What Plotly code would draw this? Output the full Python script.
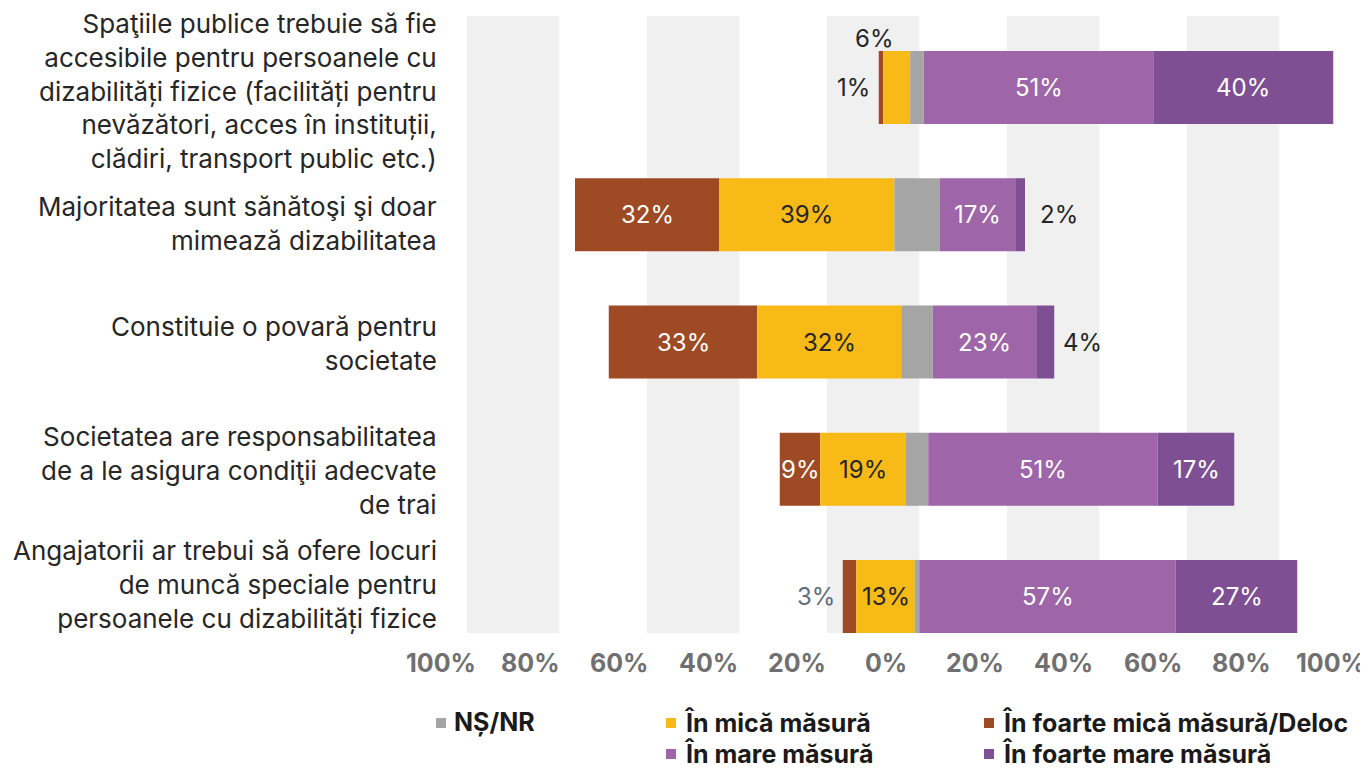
import plotly.graph_objects as go

categories = [
    "Spaţiile publice trebuie să fie<br>accesibile pentru persoanele cu<br>dizabilități fizice (facilități pentru<br>nevăzători, acces în instituții,<br>clădiri, transport public etc.)",
    "Majoritatea sunt sănătoşi şi doar<br>mimează dizabilitatea",
    "Constituie o povară pentru<br>societate",
    "Societatea are responsabilitatea<br>de a le asigura condiţii adecvate<br>de trai",
    "Angajatorii ar trebui să ofere locuri<br>de muncă speciale pentru<br>persoanele cu dizabilități fizice",
]
foarte_mica = [1, 32, 33, 9, 3]
mica = [6, 39, 32, 19, 13]
ns_nr = [3, 10, 7, 5, 1]
mare = [51, 17, 23, 51, 57]
foarte_mare = [40, 2, 4, 17, 27]

tick_values = [-100, -80, -60, -40, -20, 0, 20, 40, 60, 80, 100]
tick_labels = ["100%", "80%", "60%", "40%", "20%", "0%", "20%", "40%", "60%", "80%", "100%"]

series_names = ["NȘ/NR", "În mică măsură", "În foarte mică măsură/Deloc", "În mare măsură", "În foarte mare măsură"]
C_FM = "#9E4A24"
C_M = "#F7BA17"
C_NS = "#A5A5A5"
C_MA = "#9E66A8"
C_FMA = "#7E4F93"

FONT = "Inter"
TXT = "#262626"

# the page body has an 8px margin; work in window pixels and subtract it
OFF = 8
W, H = 1368 - OFF, 769 - OFF
PLOT_L, PLOT_R, PLOT_T, PLOT_B = 467, 1367, 16, 633   # window pixels
ML = PLOT_L - OFF
MT = PLOT_T - OFF
MR = OFF + W - PLOT_R
MB = OFF + H - PLOT_B
PW = PLOT_R - PLOT_L
PH = PLOT_B - PLOT_T

n = len(categories)
idx = list(range(n))

# diverging bases (NS/NR centred on zero)
b_fm = [-(a + b + c / 2) for a, b, c in zip(foarte_mica, mica, ns_nr)]
b_m = [-(b + c / 2) for b, c in zip(mica, ns_nr)]
b_ns = [-c / 2 for c in ns_nr]
b_ma = [c / 2 for c in ns_nr]
b_fma = [c / 2 + m for c, m in zip(ns_nr, mare)]

BW = 0.574
fig = go.Figure()
for vals, base, col, name in [
    (foarte_mica, b_fm, C_FM, series_names[2]),
    (mica, b_m, C_M, series_names[1]),
    (ns_nr, b_ns, C_NS, series_names[0]),
    (mare, b_ma, C_MA, series_names[3]),
    (foarte_mare, b_fma, C_FMA, series_names[4]),
]:
    fig.add_trace(go.Bar(
        y=idx, x=vals, base=base, orientation="h", width=BW,
        marker=dict(color=col, line=dict(width=0)),
        name=name, showlegend=False, hoverinfo="skip",
    ))

shapes = []
# alternating background bands
for v in [-100, -60, -20, 20, 60]:
    shapes.append(dict(type="rect", xref="x", yref="paper", x0=v, x1=v + 20.5, y0=0, y1=1,
                       fillcolor="#F0F0F0", line=dict(width=0), layer="below"))

annotations = []
# category labels
cat_shift = [-3, -8.5, -1, -1.5, 11.5]
for i, c in enumerate(categories):
    annotations.append(dict(xref="paper", yref="y", x=(439 - PLOT_L) / PW, y=i, text=c,
                            xanchor="right", yanchor="middle", align="right", showarrow=False,
                            yshift=cat_shift[i], font=dict(family=FONT, size=26, color=TXT)))

# axis tick labels
for v, t in zip(tick_values, tick_labels):
    xp = ((v * 0.988 - 6.9) + 100) / 200
    annotations.append(dict(xref="paper", yref="paper", x=xp, y=0, yshift=-30, text=t,
                            xanchor="center", yanchor="middle", showarrow=False,
                            font=dict(family=FONT, size=25, color="#707070", weight="bold")))

def seg_label(x, i, text, color, **kw):
    d = dict(xref="x", yref="y", x=x, y=i, text=text, showarrow=False,
             xanchor="center", yanchor="middle",
             font=dict(family=FONT, size=24, color=color))
    d.update(kw)
    annotations.append(d)

for i in idx:
    # dark orange
    cx = b_fm[i] + foarte_mica[i] / 2
    if i == 0:
        seg_label(b_fm[i], i, f"{foarte_mica[i]}%", TXT, xanchor="right", xshift=-7)
    elif i == 4:
        seg_label(b_fm[i], i, f"{foarte_mica[i]}%", "#5E6D7E", xanchor="right", xshift=-6)
    else:
        seg_label(cx, i, f"{foarte_mica[i]}%", "white")
    # yellow
    cx = b_m[i] + mica[i] / 2
    if i == 0:
        seg_label(cx, i, f"{mica[i]}%", TXT, yanchor="bottom", yshift=32.5, xshift=-23)
    else:
        seg_label(cx, i, f"{mica[i]}%", TXT)
    # mare
    seg_label(b_ma[i] + mare[i] / 2, i, f"{mare[i]}%", "white")
    # foarte mare
    end = b_fma[i] + foarte_mare[i]
    if i == 1:
        seg_label(end, i, f"{foarte_mare[i]}%", TXT, xanchor="left", xshift=13)
    elif i == 2:
        seg_label(end, i, f"{foarte_mare[i]}%", TXT, xanchor="left", xshift=7)
    else:
        seg_label(b_fma[i] + foarte_mare[i] / 2, i, f"{foarte_mare[i]}%", "white")

# manual legend (window pixel positions)
legend_items = [
    (series_names[0], C_NS, 436, 722),
    (series_names[1], C_M, 666, 722),
    (series_names[2], C_FM, 984, 722),
    (series_names[3], C_MA, 666, 753),
    (series_names[4], C_FMA, 984, 753),
]
for name, col, px, py in legend_items:
    x0 = (px - PLOT_L) / PW
    x1 = (px + 10 - PLOT_L) / PW
    y0 = (PLOT_B - (py + 6)) / PH
    y1 = (PLOT_B - (py - 4)) / PH
    shapes.append(dict(type="rect", xref="paper", yref="paper", x0=x0, x1=x1, y0=y0, y1=y1,
                       fillcolor=col, line=dict(width=0)))
    annotations.append(dict(xref="paper", yref="paper", x=(px + 16 - PLOT_L) / PW,
                            y=(PLOT_B - py) / PH, text=name, showarrow=False,
                            xanchor="left", yanchor="middle",
                            font=dict(family=FONT, size=25, color="#1a1a1a", weight="bold")))

fig.update_layout(
    width=W, height=H,
    margin=dict(l=ML, r=MR, t=MT, b=MB, pad=0),
    paper_bgcolor="white", plot_bgcolor="white",
    barmode="overlay",
    xaxis=dict(range=[-100, 100], showticklabels=False, showgrid=False, zeroline=False,
               showline=False, fixedrange=True),
    yaxis=dict(range=[4.287, -0.562], showticklabels=False, showgrid=False, zeroline=False,
               showline=False, fixedrange=True),
    shapes=shapes, annotations=annotations,
    font=dict(family=FONT),
)

fig.write_html("out.html")
